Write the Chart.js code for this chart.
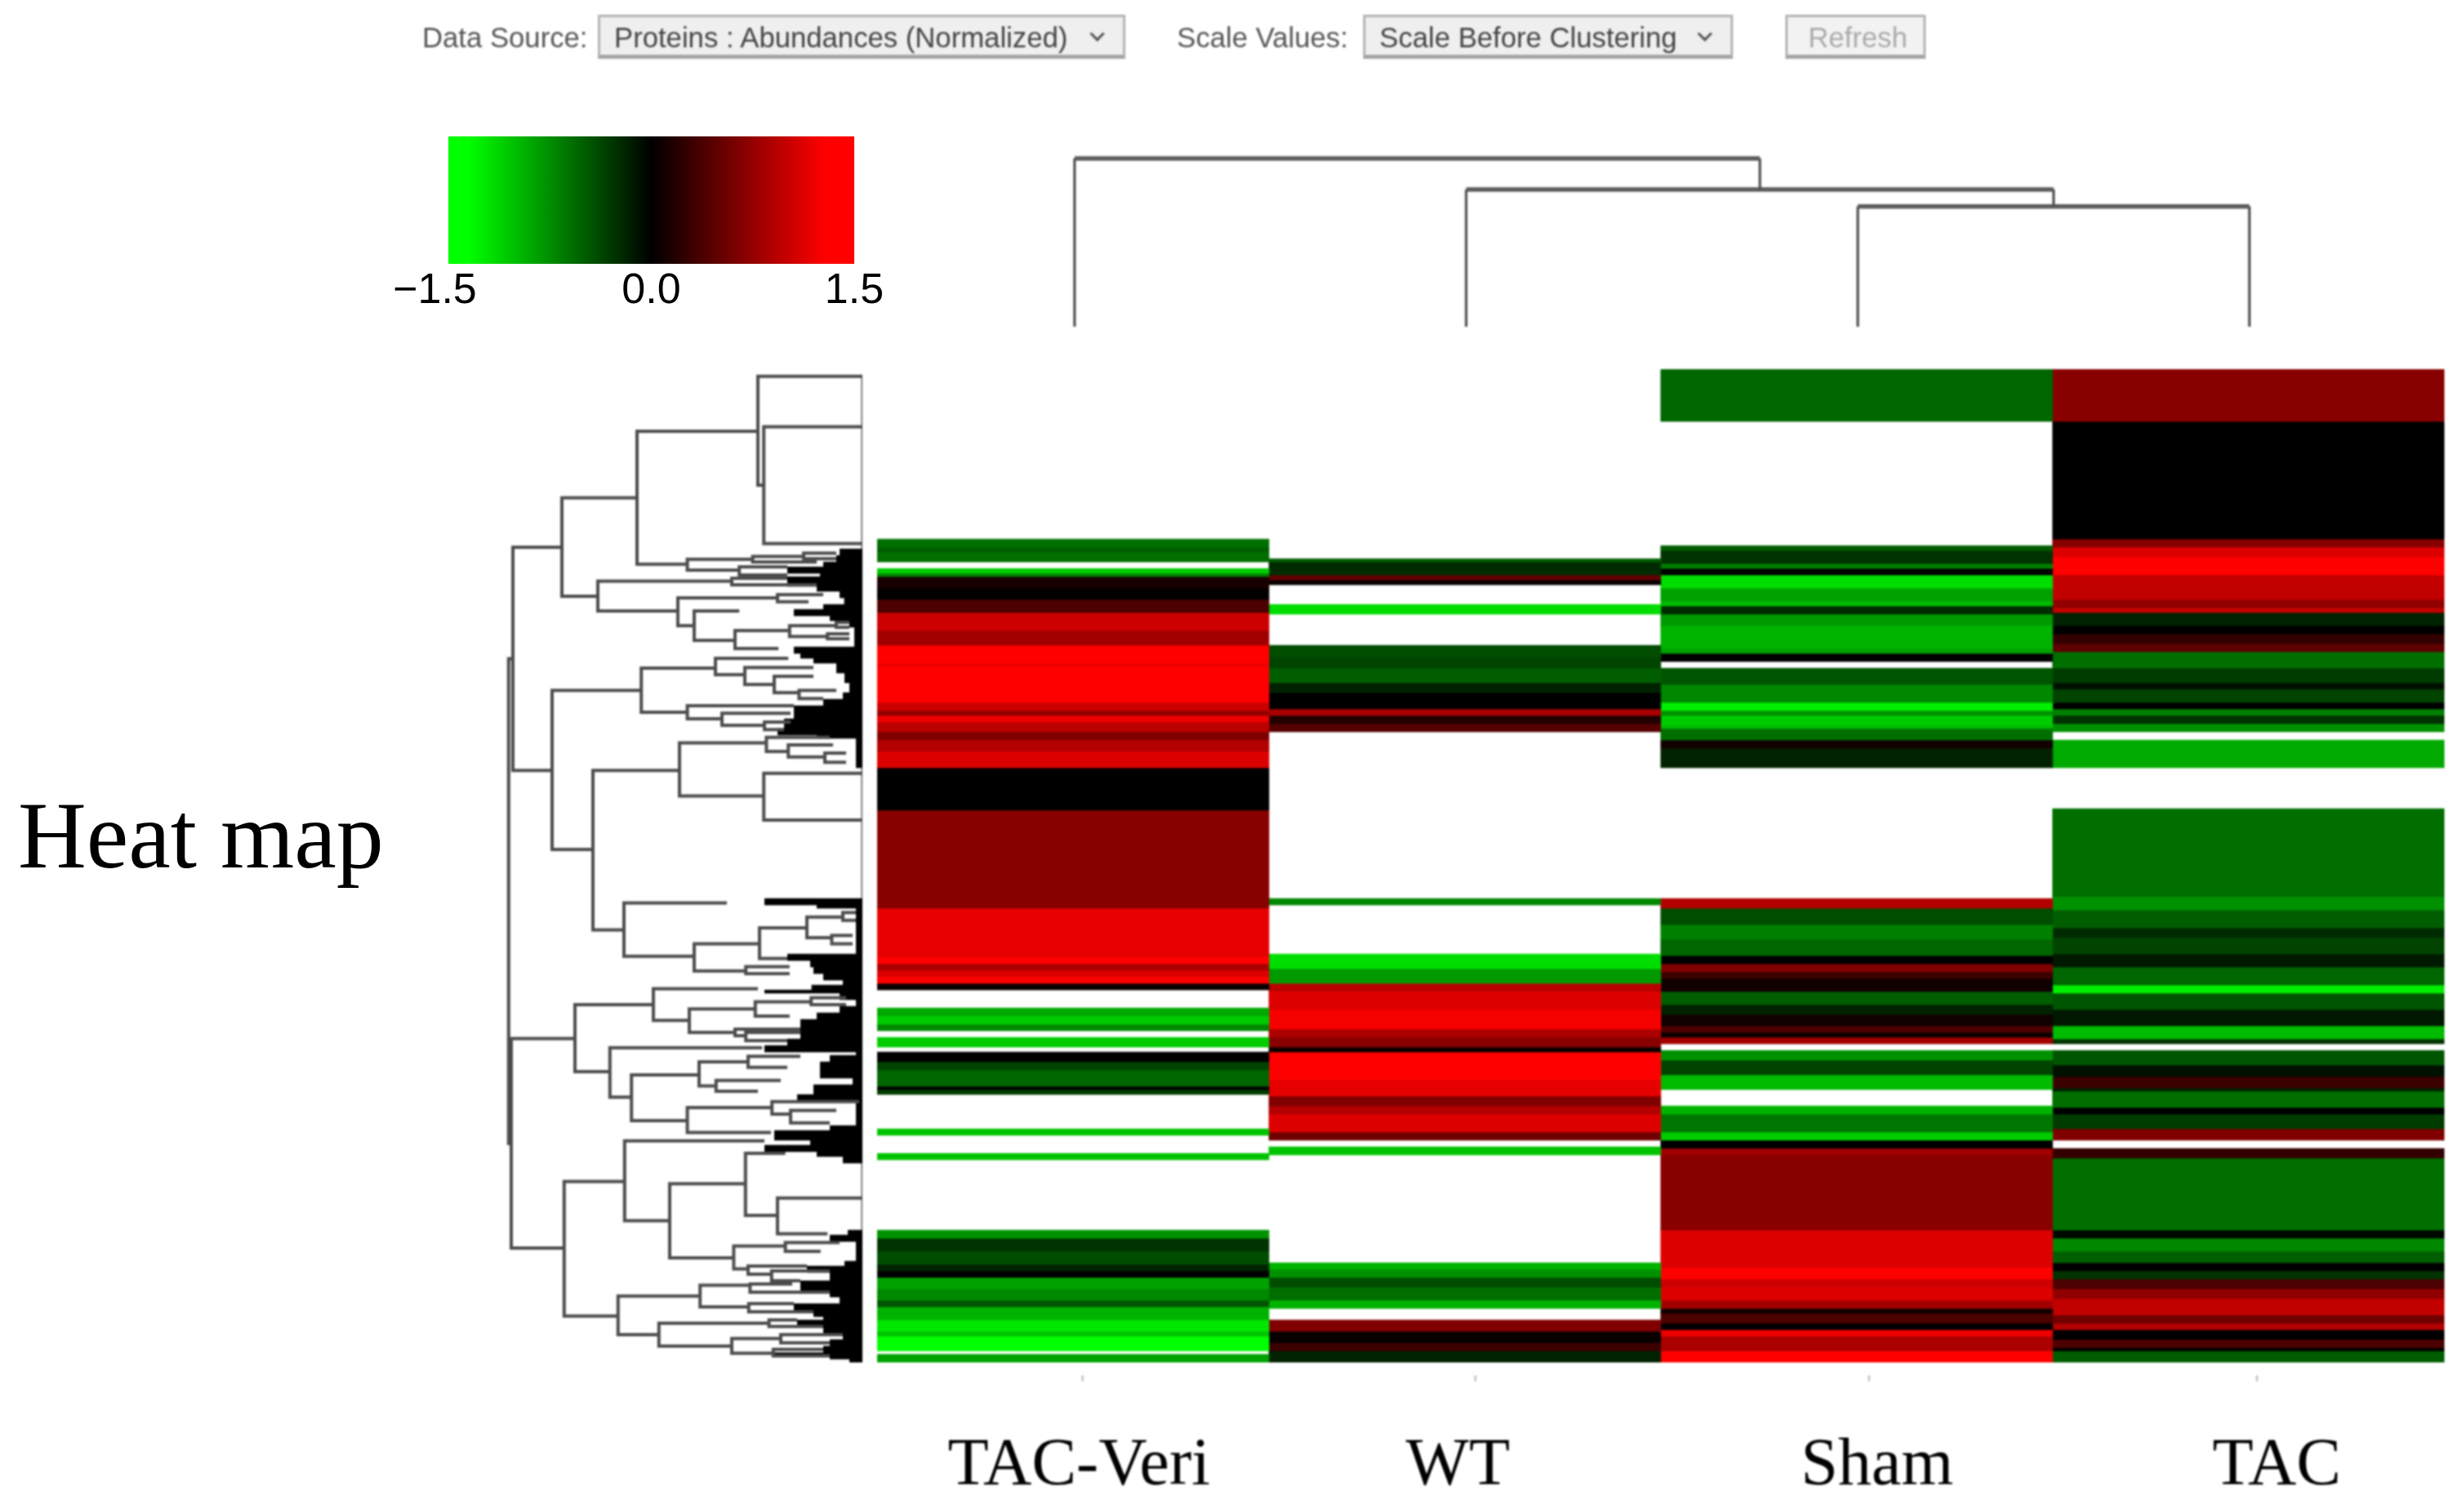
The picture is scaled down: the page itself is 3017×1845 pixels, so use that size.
<!DOCTYPE html>
<html><head><meta charset="utf-8">
<script src="https://cdn.jsdelivr.net/npm/chart.js@4"></script>
<style>
html,body{margin:0;padding:0;background:#fff;width:3017px;height:1845px;overflow:hidden}
canvas{position:absolute;display:block}
.lbl,.box{position:absolute;font-family:"Liberation Sans",Arial,sans-serif;font-size:34.7px;white-space:nowrap;filter:blur(.8px)}
.lbl{color:#555;top:26px;line-height:40px}
.box{top:18px;height:54px;line-height:50px;box-sizing:border-box;background:#efefef;border:3px solid #b4b4b4;border-bottom:5px solid #a4a4a4;color:#444;padding-left:17px}
.arr{position:absolute;top:14px;width:10px;height:10px;border-right:3px solid #555;border-bottom:3px solid #555;transform:rotate(45deg)}
#title{position:absolute;left:22px;top:966px;font:116px/115px "Liberation Serif",serif;color:#000;white-space:nowrap}
</style></head><body>
<div class="lbl" style="left:517px">Data Source:</div>
<div class="box" style="left:732px;width:646px">Proteins : Abundances (Normalized)<span class="arr" style="right:25px"></span></div>
<div class="lbl" style="left:1441px">Scale Values:</div>
<div class="box" style="left:1669px;width:453px">Scale Before Clustering<span class="arr" style="right:25px"></span></div>
<div class="box" style="left:2186px;width:172px;color:#aaa;background:#f2f2f2;padding-left:25px">Refresh</div>
<div id="title">Heat map</div>
<canvas id="heat" style="left:1074px;top:452px;width:1919px;height:1393px;filter:blur(1.3px)" width="1919" height="1393"></canvas>
<canvas id="rowTree" style="left:608px;top:444px;width:456px;height:1232px;filter:blur(.9px)" width="456" height="1232"></canvas>
<canvas id="colTree" style="left:1071px;top:175px;width:1928px;height:230px;filter:blur(.8px)" width="1928" height="230"></canvas>
<canvas id="key" style="left:449px;top:167px;width:657px;height:226px;filter:blur(.7px)" width="657" height="226"></canvas>
<script>
// ---------- data ----------
const columns = ["TAC-Veri","WT","Sham","TAC"];
const rowCount = 304;
// runs of rows: [first row, log-scaled abundance]; null = no value (white)
const tacVeriBands = [[0,null],[52,-.65],[54.5,-.55],[56,-.65],[59,null],[61,-1.2],[62.5,-.75],[63.5,.15],[67,0],[70.5,.45],[74.5,1.2],[80,.95],[84.5,1.5],[90,1.4],[91,1.5],[102,1.2],[104.5,.85],[106,1.4],[108,1.1],[111,.75],[113.5,1.05],[117,1.3],[122,0],[135,.8],[165,1.35],[180,1.5],[182,1],[184,1.3],[186,1.5],[188,.05],[190,null],[195.5,-1],[198,-1.2],[200.5,-.8],[202.5,null],[204.5,-1.2],[207.5,null],[209,0],[212,-.4],[214.5,-.6],[219.5,0],[220.5,-.35],[222,null],[232.5,-1.15],[234.5,null],[240,-1.15],[242,null],[263.5,-.85],[266,-.3],[270,-.45],[274,-.2],[276,0],[278,-.95],[281.5,-.8],[285,-.5],[287,-1.05],[291,-1.35],[294.5,-1.15],[296,-1.5],[300.5,null],[301.5,-.95]];
const wtBands = [[0,null],[58,-.55],[59,-.25],[63,.6],[64.5,.05],[66,null],[72,-1.3],[75,null],[84.5,-.45],[88,-.4],[91.5,-.55],[96,-.2],[99,0],[104,1],[106,.2],[108.5,.5],[111,null],[162,-.8],[164,null],[179,-1.3],[183.5,-.9],[188,1.1],[190.5,1.3],[196,1.45],[202,1],[204.5,.8],[207.5,.05],[209,1.5],[217.5,1.35],[222.5,.75],[225.5,1.05],[228,1.3],[233.5,.65],[236,null],[238,-1.15],[240.5,null],[273.5,-1.05],[275.5,-.85],[278,-.45],[281,-.65],[285,-1.05],[287.5,null],[291,.75],[294.5,.05],[298,.35],[300.5,-.2]];
const shamBands = [[0,-.6],[16,null],[54,-.55],[55.5,-.3],[59.5,-.75],[61,.02],[63,-1.3],[67,-.95],[71,-1.1],[72.5,-.25],[75,-.9],[78.5,-1.05],[85.5,-.95],[87,0],[89.5,null],[91.5,-.5],[96.5,-.8],[102,-1.4],[104.5,-.85],[106,-1.2],[109,-1.1],[110,-.65],[113.5,.1],[116,-.2],[122,null],[162,1.05],[165,-.45],[170,-.75],[174.5,-.6],[179.5,0],[182,.75],[184.5,.35],[186.5,.1],[190.5,-.55],[194.5,-.2],[197.5,.1],[201,.45],[203,.05],[204.5,.95],[206.5,null],[208.5,-.85],[211.5,-.4],[216,-1.1],[220.5,null],[225.5,-1.05],[228,-.7],[233.5,-1.2],[236,0],[238.5,.95],[240.5,.8],[263.5,1.3],[275,1.5],[278.5,1.2],[281,1.3],[285,.95],[287.5,.1],[289,.45],[292,0],[294,1.4],[296,1],[300.5,1.5]];
const tacBands = [[0,.8],[16,0],[52,.8],[54.5,1.3],[57.5,1.5],[63,1.15],[70.5,.85],[73,1.15],[74.5,-.2],[78.5,0],[81,.3],[84,.55],[86.5,-.65],[91.5,-.35],[96,-.1],[98,-.4],[102,0],[104,-.75],[106,-.3],[108.5,-.85],[111,null],[113.5,-1],[122,null],[134.5,-.65],[161.5,-.85],[165.5,-.55],[171,-.25],[174,-.4],[179,-.15],[183,-.6],[188.5,-1.4],[191,-.5],[196,-.15],[201,-1.1],[205,-.3],[206.5,null],[208.5,-.5],[213,-.1],[216.5,.35],[220,-.2],[221,-.65],[226,0],[228,-.35],[232.5,.75],[236,null],[238.5,.3],[241.5,-.65],[263.5,-.05],[266,-.8],[270,-.55],[273.5,0],[276,-.3],[278.5,.45],[281.5,.85],[284.5,1.15],[289.5,.65],[292,1.05],[294,0],[297,.45],[299.5,0],[300.5,-.55]];
const labelPositions = [0.015,0.982,2.052,3.072];
const tickPositions = [0.025,1.027,2.032,3.022];

// row dendrogram merges: [merge height, upper row, upper child height, lower row, lower child height]
const rowMerges = [
[108.3,88.6,107,237,107.5],[107,54.5,92,122.8,95],[92,39.4,69,69.5,81],[69,19,32,59.7,53.6],[32,2.2,0,35.5,30.2],[30.2,17.6,0,53.4,0],
[53.6,58.2,33.6,61.5,37.7],[33.6,57.3,18,59,14],[18,56.3,8,58,8],[37.7,60.5,23,63,23],
[81,64.9,40,74,56.5],[40,64,23,66,14],[56.5,70,26,78.5,51.5],[26,69,12,71.2,16.5],[51.5,74,37.7,83,39],[39,80,22.3,85.5,25.7],[22.3,78.5,8,81.8,10.7],[8,77.5,4,79,4],[10.7,81,4,82.5,4],
[95,98.3,67.7,147,82.5],[67.7,91.5,45,105,53.6],[45,88.5,22.7,93.5,36],[36,91.3,15,96.5,27],[27,94,15,99,19.4],[19.4,98.3,8,100.8,12],
[53.6,103,21,107,43],[43,105.3,22,109,30],[30,108,22,110.3,24],
[82.5,122.8,56,171.6,73],[56,114.4,29.4,130.6,30.2],[29.4,112.7,10,117,22.7],[22.7,115,9,118.7,11.5],[11.5,117.5,5,120.3,5],[30.2,123.7,0,138,0],
[73,163.4,41.5,179.7,51.5],[51.5,175.9,31.5,184.2,35.7],[31.5,171,17,180.4,23],[17,167.7,6,174,9.4],[6,166.3,2,168.7,2],[9.4,173.3,3,175.9,3],[35.7,182.9,22.3,185,22.3],
[107.5,204.9,88,269,91.3],[88,194.5,64,215,77.3],[64,189.6,32,199.3,53],[53,195.8,32.8,203,39],[32.8,193.6,15.7,198,22.3],[15.7,192.4,5,194.5,5],[39,202,19,204,35.7],[35.7,203,19,205.5,23],
[77.3,207.7,30.7,222.8,70.7],[70.7,216,50,230,53.6],[50,212,35,219.4,44.8],[35,210.3,19,213.7,23],[44.8,217.7,25,221,32],[53.6,226,27.7,233.6,28],[27.7,224.2,1,228,22],[22,226.9,8,230.7,10],
[91.3,248.6,72.8,289.8,74.8],[72.8,236.2,30,260.6,59],[59,249.3,35.8,272,39.4],[35.8,240,23.6,259,26],[26,253.7,0,264.6,10.7],[39.4,268.4,23.6,275.4,35],[23.6,267.3,7,270,12.8],[35,274.5,17,277,27.8],[27.8,276,10,279,19],
[74.8,283.7,49.7,295.5,62.3],[49.7,280.4,34.4,287,34.8],[34.4,280,21.5,282.5,10],[34.8,286,21,288.5,15],[62.3,292,28.6,299,40],[28.6,291,20,293,12],[40,296.7,25,301.2,27.3],[25,295.5,6,298,10],[27.3,300,12,302,10]
];
// dense leaves of the row dendrogram: [first row, tallest leaf height in that run]
const leafRuns = [[55,7],[57,8],[59,12],[60.5,23],[62,13],[63.5,23],[66,14],[68,7],[70,5.6],[72,12],[73.5,21],[75,10],[77,4],[79,2.5],[85,21],[86.5,19],[88,15],[90,8],[93,5.5],[96,4],[99,6],[101,12],[103,21],[107,24],[110,26],[112,14],[113,2],[122,0],[162,30],[164,14],[165,2],[179,23],[181,16],[183,15],[185,12],[187,6],[188.5,15.6],[190,30],[191,7],[193,2],[195,7],[197,14],[199,19],[205,23],[207,30],[209,2],[210,10],[212,13],[217,3],[219,15],[222,20],[224,2],[231.5,10],[233,27],[236,16],[237.5,30],[239,14],[241,6],[243,0],[263.5,4.5],[265,10],[267,2],[273,5.5],[274.5,17],[276.5,10],[279,19],[282,10],[284,7],[286,21],[288,15],[290,12],[291,20],[293,12],[295,6],[297,10],[299,12],[301,27],[302,10],[303,4]];
const leafBaseline = [[0,2],[0,304]];

// column dendrogram merges: [merge height, left column, left child height, right column, right child height]
const colMerges = [[36.8,2,0,3,0],[42,1,0,2.5,36.8],[51.5,0,0,1.75,42]];

const keyRange = [-1.5,1.5];
const keyTickPositions = [-1.6,0,1.5];
const keyTickLabels = ["\u22121.5","0.0","1.5"];

// ---------- drawing ----------
Chart.defaults.animation = false;
Chart.defaults.devicePixelRatio = 1;
Chart.defaults.responsive = false;
Chart.defaults.plugins.legend.display = false;
Chart.defaults.plugins.tooltip.enabled = false;
const SERIF = "'Liberation Serif'", SANS = "'Liberation Sans'";

function heatColor(v){
  const c = Math.round(Math.min(1,Math.abs(v)/1.5)*255);
  return v>=0 ? `rgb(${c},0,0)` : `rgb(0,${c},0)`;
}
const heatSets = [];
[tacVeriBands,wtBands,shamBands,tacBands].forEach((bands,col)=>{
  bands.forEach((b,i)=>{
    if(b[1]===null) return;
    const end = i+1<bands.length ? bands[i+1][0] : rowCount;
    const data = [null,null,null,null]; data[col]=[b[0],end];
    heatSets.push({data,backgroundColor:heatColor(b[1]),borderWidth:0,barPercentage:1,categoryPercentage:1});
  });
});
const fixedTicks = list => s => { s.ticks = list.map(v=>({value:v})); };
new Chart(document.getElementById('heat'),{
  type:'bar',
  data:{labels:columns,datasets:heatSets},
  options:{
    layout:{padding:0},
    scales:{
      x:{type:'category',stacked:true,display:false,offset:true},
      y:{min:0,max:rowCount,reverse:true,display:false,stacked:false},
      xTicks:{type:'linear',axis:'x',position:'bottom',weight:1,min:-.5,max:3.5,offset:false,
        afterBuildTicks:fixedTicks(tickPositions),
        afterFit:s=>{s.height=26;},
        border:{display:false},
        ticks:{display:false},
        grid:{offset:false,drawOnChartArea:false,drawTicks:true,tickLength:24,tickColor:'#a9b2b2',tickWidth:2,tickBorderDash:[0,16,7,100]}},
      xLabels:{type:'linear',axis:'x',position:'bottom',weight:2,min:-.5,max:3.5,offset:false,
        afterBuildTicks:fixedTicks(labelPositions),
        afterFit:s=>{s.height=151;},
        border:{display:false},
        grid:{offset:false,display:false,drawTicks:false},
        ticks:{autoSkip:false,maxRotation:0,minRotation:0,padding:52,color:'#000',font:{family:SERIF,size:82},
          callback:(v,i)=>columns[i]}}
    }
  }
});

function bracketPath(m){ return [{x:m[2],y:m[1]},{x:m[0],y:m[1]},{x:m[0],y:m[3]},{x:m[4],y:m[3]},{x:NaN,y:NaN}]; }
const leafPts = [];
leafRuns.forEach((r,i)=>{
  if(!r[1]) return;
  const end = i+1<leafRuns.length ? leafRuns[i+1][0] : rowCount;
  for(let y=r[0]+.5;y<end+.01;y+=1){ leafPts.push({x:0,y},{x:r[1],y},{x:NaN,y:NaN}); }
});
new Chart(document.getElementById('rowTree'),{
  type:'line',
  data:{datasets:[
    {data:leafPts,borderColor:'#000',borderWidth:4.5,pointRadius:0,tension:0,order:2},
    {data:rowMerges.flatMap(bracketPath),borderColor:'#4c4c4c',borderWidth:4,pointRadius:0,tension:0,order:1},
    {data:leafBaseline.map(p=>({x:p[0],y:p[1]})),borderColor:'#5a5a5a',borderWidth:3,pointRadius:0,order:3}
  ]},
  options:{
    layout:{padding:8},
    scales:{
      x:{type:'linear',min:0,max:110,reverse:true,display:false},
      y:{type:'linear',min:0,max:rowCount,reverse:true,display:false}
    }
  }
});

const colArms = m => [{x:m[1],y:m[2]},{x:m[1],y:m[0]},{x:NaN,y:NaN},{x:m[3],y:m[0]},{x:m[3],y:m[4]},{x:NaN,y:NaN}];
const colBars = m => [{x:m[1],y:m[0]},{x:m[3],y:m[0]},{x:NaN,y:NaN}];
new Chart(document.getElementById('colTree'),{
  type:'line',
  data:{datasets:[
    {data:colMerges.flatMap(colArms),borderColor:'#505050',borderWidth:3.2,pointRadius:0,tension:0},
    {data:colMerges.flatMap(colBars),borderColor:'#5c5c5c',borderWidth:5.5,pointRadius:0,tension:0}
  ]},
  options:{
    layout:{padding:5},
    scales:{
      x:{type:'linear',min:-.5,max:3.5,display:false},
      y:{type:'linear',min:0,max:55,display:false}
    }
  }
});

new Chart(document.getElementById('key'),{
  type:'bar',
  data:{labels:['key'],datasets:[{
    data:[keyRange],borderWidth:0,barPercentage:1,categoryPercentage:1,
    backgroundColor:ctx=>{
      const a=ctx.chart.chartArea; if(!a) return '#000';
      const g=ctx.chart.ctx.createLinearGradient(a.left,0,a.right,0);
      g.addColorStop(0.05,heatColor(keyRange[0]));
      g.addColorStop(.5,heatColor(0));
      g.addColorStop(.93,heatColor(keyRange[1]));
      return g;
    }
  }]},
  options:{
    indexAxis:'y',
    layout:{padding:{left:100,right:60,top:0,bottom:0}},
    scales:{
      y:{display:false},
      x:{type:'linear',min:keyRange[0],max:keyRange[1],
        afterBuildTicks:fixedTicks(keyTickPositions),
        afterFit:s=>{s.height=70;},
        border:{display:false},
        grid:{display:false,drawTicks:false},
        ticks:{autoSkip:false,maxRotation:0,minRotation:0,padding:2,color:'#000',font:{family:SANS,size:52},
          callback:(v,i)=>keyTickLabels[i]}}
    }
  }
});
</script>
</body></html>
